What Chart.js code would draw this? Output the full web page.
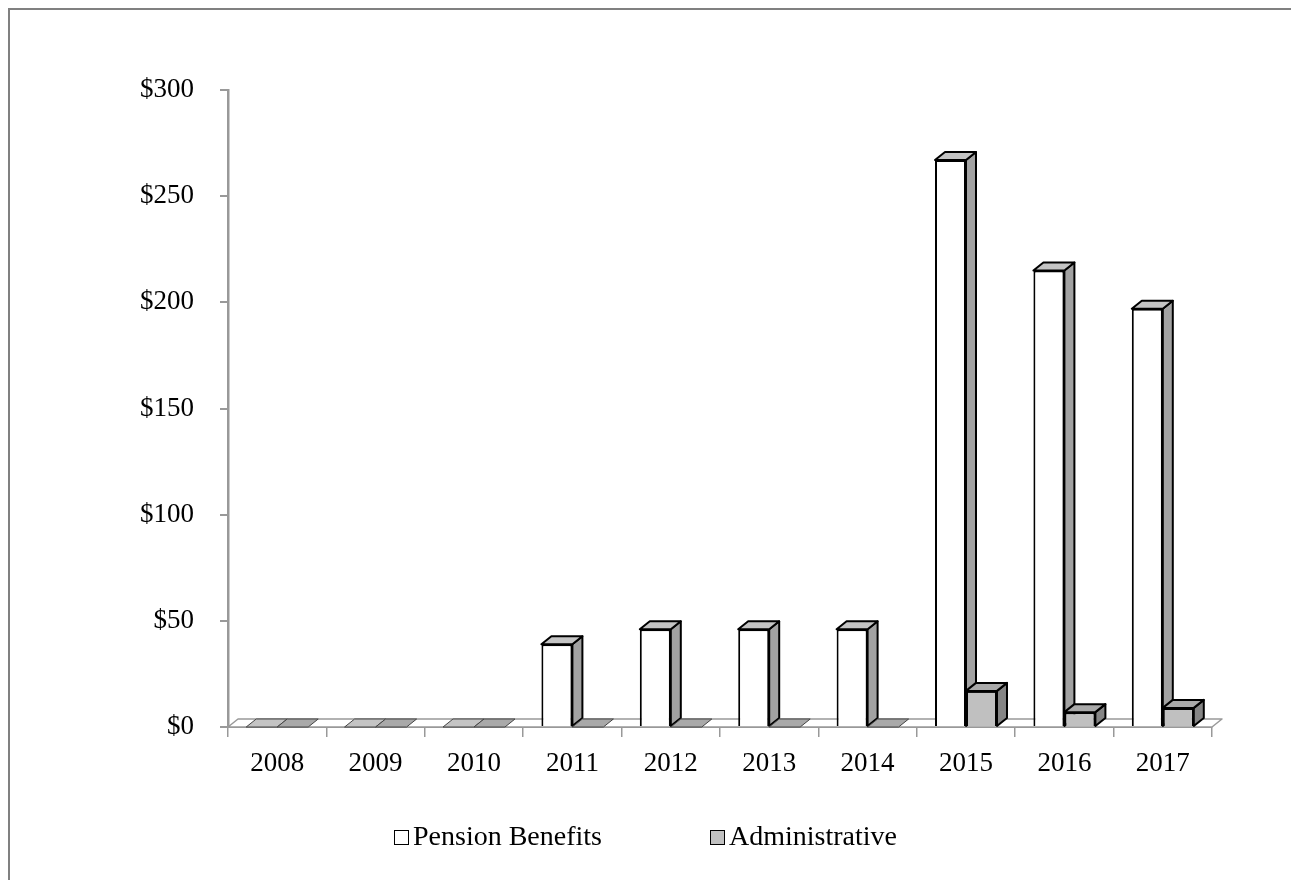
<!DOCTYPE html>
<html>
<head>
<meta charset="utf-8">
<script src="https://cdn.jsdelivr.net/npm/chart.js@4"></script>
<style>
  html, body { margin: 0; padding: 0; background: #fff; overflow: hidden; }
  #wrap { position: relative; width: 1291px; height: 880px; }
  #frame { position: absolute; left: 8px; top: 8px; width: 1400px; height: 1000px; border: 2px solid #808080; box-sizing: border-box; }
  #legend { position: absolute; left: 0; top: 820px; width: 1291px; display: flex; justify-content: center; gap: 108px;
            font-family: "Liberation Serif", serif; font-size: 28px; color: #000; }
  #legend .item { display: flex; align-items: center; }
  #legend .box { width: 13px; height: 13px; border: 1.5px solid #000; margin-right: 4px; margin-top: 3px; }
</style>
</head>
<body>
<div id="wrap">
  <div id="frame"></div>
  <canvas id="barChart" width="1291" height="880" style="position:absolute;left:0;top:0"></canvas>
  <div id="legend"></div>
</div>
<script>
let years = ["2008", "2009", "2010", "2011", "2012", "2013", "2014", "2015", "2016", "2017"];
let pensionBenefits = [0, 0, 0, 39, 46, 46, 46, 267, 215, 197];
let administrative = [0, 0, 0, 0, 0, 0, 0, 17, 7, 9];

// 3d look: depth offset of each bar and the floor
let depthX = 10;
let depthY = -8;

let threeD = {
  id: "threeD",
  beforeDatasetsDraw(chart) {
    let ctx = chart.ctx;
    let area = chart.chartArea;
    ctx.save();
    ctx.lineJoin = "round";
    // floor
    ctx.beginPath();
    ctx.moveTo(area.left, area.bottom);
    ctx.lineTo(area.right, area.bottom);
    ctx.lineTo(area.right + depthX, area.bottom + depthY);
    ctx.lineTo(area.left + depthX, area.bottom + depthY);
    ctx.closePath();
    ctx.fillStyle = "#fff";
    ctx.fill();
    ctx.strokeStyle = "#999";
    ctx.lineWidth = 1.5;
    ctx.stroke();

    chart.data.datasets.forEach((ds, i) => {
      let meta = chart.getDatasetMeta(i);
      meta.data.forEach((bar) => {
        let left = bar.x - bar.width / 2;
        let right = bar.x + bar.width / 2;
        let top = bar.y;
        let base = bar.base;
        ctx.strokeStyle = "#000";
        ctx.lineWidth = 2;
        if (base - top > 0.5) {
          ctx.beginPath();
          ctx.moveTo(right, top);
          ctx.lineTo(right + depthX, top + depthY);
          ctx.lineTo(right + depthX, base + depthY);
          ctx.lineTo(right, base);
          ctx.closePath();
          ctx.fillStyle = ds.sideColor;
          ctx.fill();
          ctx.stroke();
        }
        ctx.beginPath();
        ctx.moveTo(left, top);
        ctx.lineTo(left + depthX, top + depthY);
        ctx.lineTo(right + depthX, top + depthY);
        ctx.lineTo(right, top);
        ctx.closePath();
        ctx.fillStyle = ds.topColor;
        ctx.fill();
        if (base - top > 0.5) {
          ctx.stroke();
        } else {
          ctx.strokeStyle = "#444";
          ctx.lineWidth = 1;
          ctx.stroke();
        }
      });
    });
    ctx.restore();
  },
};

let chart = new Chart(document.getElementById("barChart").getContext("2d"), {
  type: "bar",
  data: {
    labels: years,
    datasets: [
      {
        label: "Pension Benefits",
        data: pensionBenefits,
        backgroundColor: "#ffffff",
        borderColor: "#000",
        borderWidth: 2,
        topColor: "#c4c4c4",
        sideColor: "#a2a2a2",
      },
      {
        label: "Administrative",
        data: administrative,
        backgroundColor: "#c0c0c0",
        borderColor: "#000",
        borderWidth: 2,
        topColor: "#a9a9a9",
        sideColor: "#858585",
      },
    ],
  },
  plugins: [threeD],
  options: {
    responsive: false,
    animation: false,
    categoryPercentage: 0.63,
    barPercentage: 1,
    layout: {
      padding: { left: 0, right: 79, top: 90, bottom: 93 },
    },
    plugins: {
      legend: { display: false },
      tooltip: { enabled: false },
    },
    scales: {
      x: {
        afterFit(scale) { scale.height = 60; },
        grid: { offset: true, drawOnChartArea: false, tickLength: 10, color: "#999", lineWidth: 1.5 },
        border: { color: "#999", width: 2 },
        ticks: { color: "#000", padding: 11, font: { family: "Liberation Serif", size: 27 } },
      },
      y: {
        min: 0,
        max: 300,
        afterFit(scale) { scale.width = 228; },
        grid: { drawOnChartArea: false, tickLength: 8, color: "#999", lineWidth: 2 },
        border: { color: "#999", width: 2.5 },
        ticks: {
          stepSize: 50,
          color: "#000",
          padding: 26,
          font: { family: "Liberation Serif", size: 27 },
          callback: (v) => "$" + v,
        },
      },
    },
  },
});

// legend below the chart, built from the datasets
let legend = document.getElementById("legend");
chart.data.datasets.forEach((ds) => {
  let item = document.createElement("div");
  item.className = "item";
  let box = document.createElement("span");
  box.className = "box";
  box.style.background = ds.backgroundColor;
  let txt = document.createElement("span");
  txt.textContent = ds.label;
  item.appendChild(box);
  item.appendChild(txt);
  legend.appendChild(item);
});
</script>
</body>
</html>
